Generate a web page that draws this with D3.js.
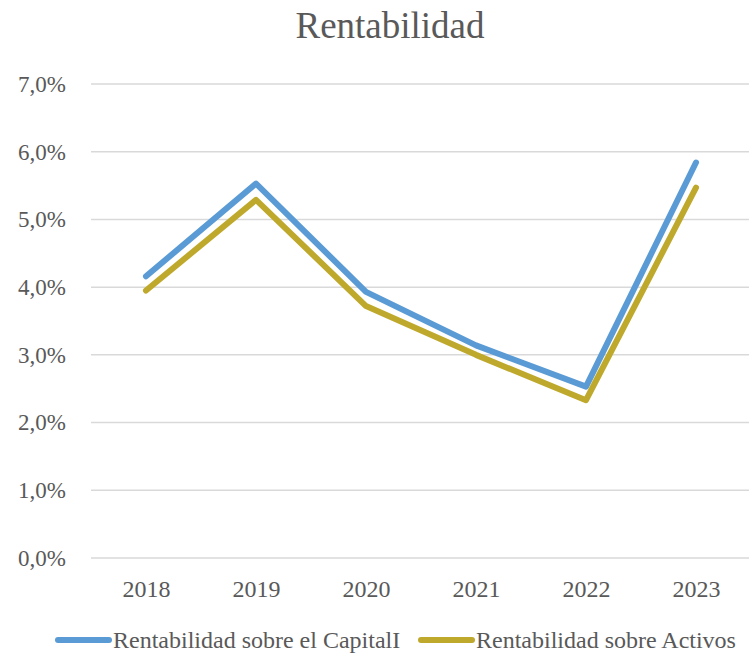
<!DOCTYPE html>
<html>
<head>
<meta charset="utf-8">
<script src="https://cdn.jsdelivr.net/npm/d3@7"></script>
<style>
  body { margin: 0; background: #fff; }
</style>
</head>
<body>
<div id="chart"></div>
<script>
const years = ["2018", "2019", "2020", "2021", "2022", "2023"];
const capital = [4.16, 5.53, 3.93, 3.14, 2.53, 5.84];
const activos = [3.95, 5.29, 3.72, 3.00, 2.33, 5.47];
const yTicks = [0, 1, 2, 3, 4, 5, 6, 7];
const seriesNames = ["Rentabilidad sobre el CapitalI", "Rentabilidad sobre Activos"];
const colors = ["#5b9bd5", "#bfa92c"];

const font = '"Liberation Serif", Tinos, serif';
const width = 749, height = 658;
const margin = { top: 84, right: -2, bottom: 100, left: 91 };

const svg = d3.select("#chart")
    .append("svg")
    .attr("width", width)
    .attr("height", height);

const x = d3.scalePoint()
    .domain(years)
    .range([margin.left, width - margin.right])
    .padding(0.5);

const y = d3.scaleLinear()
    .domain([0, 7])
    .range([height - margin.bottom, margin.top]);

// grid
svg.append("g")
    .selectAll("line")
    .data(yTicks)
    .enter()
    .append("line")
    .attr("x1", margin.left)
    .attr("x2", width)
    .attr("y1", d => y(d))
    .attr("y2", d => y(d))
    .attr("stroke", "#d9d9d9")
    .attr("stroke-width", 1.5);

const fmt = d => d3.format(".1f")(d).replace(".", ",") + "%";

const yAxis = d3.axisLeft(y).tickValues(yTicks).tickFormat(fmt).tickSize(0).tickPadding(25);
svg.append("g")
    .attr("transform", `translate(${margin.left},0)`)
    .call(yAxis)
    .call(g => g.select(".domain").remove())
    .selectAll("text")
    .style("font-family", font)
    .style("font-size", "23px")
    .attr("fill", "#595959");

const xAxis = d3.axisBottom(x).tickSize(0).tickPadding(22);
svg.append("g")
    .attr("transform", `translate(0,${y(0)})`)
    .call(xAxis)
    .call(g => g.select(".domain").remove())
    .selectAll("text")
    .style("font-family", font)
    .style("font-size", "24px")
    .attr("fill", "#595959");

const line = d3.line()
    .x((d, i) => x(years[i]))
    .y(d => y(d));

[capital, activos].forEach((s, i) => {
    svg.append("path")
        .datum(s)
        .attr("d", line)
        .attr("fill", "none")
        .attr("stroke", colors[i])
        .attr("stroke-width", 6)
        .attr("stroke-linecap", "round")
        .attr("stroke-linejoin", "round");
});

svg.append("text")
    .attr("x", 390)
    .attr("y", 38)
    .attr("text-anchor", "middle")
    .style("font-family", font)
    .style("font-size", "37px")
    .attr("fill", "#595959")
    .text("Rentabilidad");

// legend
const legendX = [55, 418];
seriesNames.forEach((name, i) => {
    svg.append("line")
        .attr("x1", legendX[i] + 3)
        .attr("x2", legendX[i] + 54)
        .attr("y1", 640)
        .attr("y2", 640)
        .attr("stroke", colors[i])
        .attr("stroke-width", 6)
        .attr("stroke-linecap", "round");
    svg.append("text")
        .attr("x", legendX[i] + 58)
        .attr("y", 648)
        .style("font-family", font)
        .style("font-size", "24px")
        .attr("fill", "#595959")
        .text(name);
});
</script>
</body>
</html>
